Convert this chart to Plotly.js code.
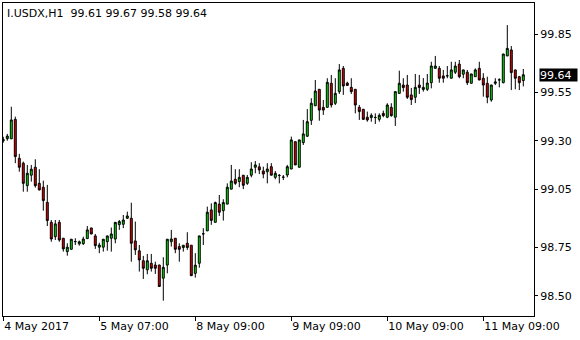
<!DOCTYPE html>
<html>
<head>
<meta charset="utf-8">
<script src="https://cdn.plot.ly/plotly-3.0.1.min.js"></script>
<style>
html,body{margin:0;padding:0;background:#fff;}
#chart{width:580px;height:340px;}
</style>
</head>
<body>
<div id="chart"></div>
<script>
const symbolName = 'I.USDX,H1';
const openPrices = [
99.300,99.310,99.310,99.410,99.209,99.184,99.068,99.122,99.163,99.080,
99.060,98.982,98.879,98.805,98.879,98.797,98.728,98.740,98.779,98.768,
98.769,98.795,98.850,98.809,98.751,98.751,98.779,98.797,98.793,98.867,
98.869,98.900,98.900,98.783,98.732,98.681,98.634,98.668,98.659,98.659,
98.591,98.659,98.779,98.797,98.754,98.749,98.771,98.761,98.616,98.668,
98.819,98.835,98.943,98.879,98.973,98.939,98.973,99.050,99.101,99.089,
99.122,99.080,99.122,99.163,99.165,99.144,99.140,99.166,99.111,99.120,
99.111,99.123,99.154,99.295,99.163,99.290,99.323,99.405,99.480,99.565,
99.472,99.472,99.596,99.493,99.553,99.673,99.597,99.575,99.565,99.472,
99.462,99.421,99.419,99.419,99.410,99.441,99.421,99.472,99.421,99.544,
99.587,99.587,99.536,99.524,99.587,99.564,99.565,99.599,99.673,99.673,
99.634,99.634,99.622,99.653,99.695,99.643,99.653,99.596,99.630,99.673,
99.622,99.596,99.510,99.596,99.613,99.599,99.737,99.768,99.665,99.630,
99.61];
const highPrices = [
99.320,99.335,99.475,99.424,99.232,99.192,99.175,99.175,99.204,99.153,
99.094,99.072,98.891,98.891,98.891,98.798,98.771,98.793,98.797,98.785,
98.805,98.860,98.851,98.819,98.774,98.793,98.810,98.852,98.880,98.891,
98.917,98.934,98.980,98.883,98.762,98.706,98.716,98.716,98.676,98.660,
98.699,98.793,98.840,98.798,98.771,98.762,98.828,98.762,98.720,98.810,
98.849,98.960,98.977,98.986,99.020,98.998,99.080,99.175,99.153,99.153,
99.123,99.123,99.189,99.195,99.184,99.166,99.184,99.184,99.144,99.128,
99.123,99.175,99.321,99.296,99.305,99.407,99.463,99.519,99.613,99.566,
99.510,99.622,99.639,99.622,99.695,99.685,99.604,99.622,99.566,99.484,
99.463,99.450,99.441,99.441,99.441,99.455,99.493,99.493,99.554,99.661,
99.622,99.639,99.572,99.644,99.639,99.623,99.644,99.707,99.737,99.685,
99.665,99.685,99.707,99.707,99.716,99.666,99.665,99.645,99.673,99.707,
99.648,99.630,99.588,99.622,99.622,99.748,99.896,99.788,99.666,99.634,
99.67];
const lowPrices = [
99.290,99.300,99.308,99.184,99.140,99.037,99.037,99.089,99.058,99.044,
98.939,98.860,98.779,98.788,98.779,98.728,98.707,98.739,98.762,98.759,
98.762,98.794,98.818,98.742,98.720,98.728,98.733,98.728,98.771,98.840,
98.849,98.896,98.676,98.711,98.625,98.587,98.611,98.625,98.613,98.547,
98.475,98.616,98.754,98.720,98.676,98.728,98.737,98.603,98.594,98.645,
98.762,98.834,98.866,98.878,98.912,98.888,98.972,99.049,99.072,99.060,
99.050,99.072,99.111,99.132,99.128,99.106,99.080,99.121,99.101,99.080,
99.097,99.111,99.153,99.174,99.162,99.278,99.319,99.381,99.479,99.403,
99.433,99.471,99.471,99.484,99.541,99.536,99.582,99.541,99.441,99.407,
99.407,99.398,99.398,99.386,99.398,99.421,99.416,99.424,99.376,99.543,
99.553,99.515,99.484,99.494,99.541,99.553,99.556,99.570,99.672,99.599,
99.599,99.622,99.621,99.644,99.622,99.622,99.587,99.595,99.629,99.612,
99.527,99.493,99.501,99.587,99.575,99.596,99.736,99.561,99.565,99.561,
99.58];
const closePrices = [
99.305,99.324,99.407,99.218,99.163,99.080,99.132,99.153,99.068,99.046,
98.991,98.888,98.793,98.871,98.788,98.742,98.751,98.792,98.780,98.779,
98.793,98.840,98.819,98.759,98.762,98.792,98.809,98.819,98.879,98.883,
98.891,98.912,98.771,98.737,98.685,98.642,98.681,98.642,98.642,98.548,
98.647,98.792,98.793,98.740,98.740,98.761,98.749,98.604,98.658,98.809,
98.820,98.931,98.889,98.981,98.931,98.981,99.060,99.092,99.080,99.111,
99.070,99.111,99.154,99.175,99.149,99.128,99.154,99.122,99.132,99.121,
99.112,99.166,99.304,99.175,99.304,99.335,99.398,99.493,99.556,99.458,
99.458,99.601,99.484,99.544,99.665,99.582,99.585,99.553,99.484,99.450,
99.410,99.407,99.431,99.420,99.431,99.429,99.484,99.429,99.553,99.596,
99.574,99.524,99.512,99.575,99.574,99.575,99.597,99.685,99.685,99.622,
99.622,99.635,99.665,99.685,99.630,99.665,99.599,99.644,99.665,99.613,
99.587,99.524,99.587,99.603,99.614,99.747,99.776,99.651,99.622,99.599,
99.64];
const xTickIndex = [0, 24, 48, 72, 96, 120];
const xTickLabels = ['4 May 2017', '5 May 07:00', '8 May 09:00', '9 May 09:00', '10 May 09:00', '11 May 09:00'];
const yTickValues = [98.50, 98.75, 99.05, 99.30, 99.55, 99.85];

const barIndex = openPrices.map((_, i) => i);
const last = openPrices.length - 1;
const lastValues = [openPrices[last], highPrices[last], lowPrices[last], closePrices[last]];
const headerText = symbolName + '\u00a0\u00a0' + lastValues.map(v => v.toFixed(2)).join(' ');

const font = {family: 'DejaVu Sans, Verdana, sans-serif', size: 11, color: '#000'};

const trace = {
  type: 'candlestick',
  x: barIndex,
  open: openPrices,
  high: highPrices,
  low: lowPrices,
  close: closePrices,
  increasing: {line: {color: '#000', width: 1}, fillcolor: '#00e600'},
  decreasing: {line: {color: '#000', width: 1}, fillcolor: '#e60000'},
  whiskerwidth: 0,
  hoverinfo: 'skip',
  showlegend: false
};

const layout = {
  width: 580,
  height: 340,
  margin: {l: 3, r: 46, t: 3, b: 24, pad: 0},
  paper_bgcolor: '#fff',
  plot_bgcolor: '#fff',
  font: font,
  showlegend: false,
  boxgap: 0.3,
  title: {
    text: headerText,
    font: font,
    xref: 'container', yref: 'container',
    x: 7 / 580, xanchor: 'left',
    y: 1 - 13 / 340, yanchor: 'middle'
  },
  xaxis: {
    range: [-0.075, 132.675],
    rangeslider: {visible: false},
    showgrid: false,
    zeroline: false,
    showline: true, linecolor: '#000', linewidth: 1, mirror: true,
    ticks: 'outside', ticklen: 4, tickcolor: '#000', tickwidth: 1,
    tickvals: xTickIndex,
    ticktext: xTickLabels,
    ticklabelposition: 'outside right',
    tickfont: font,
    fixedrange: true
  },
  yaxis: {
    side: 'right',
    range: [98.396, 100.010],
    showgrid: false,
    zeroline: false,
    showline: true, linecolor: '#000', linewidth: 1, mirror: true,
    ticks: 'outside', ticklen: 3, tickcolor: '#000', tickwidth: 1,
    tickvals: yTickValues,
    ticktext: yTickValues.map(v => v.toFixed(2)),
    tickfont: font,
    fixedrange: true
  },
  annotations: [{
    xref: 'paper', yref: 'y',
    x: 1, y: closePrices[last],
    xanchor: 'left', yanchor: 'middle',
    xshift: 5,
    text: closePrices[last].toFixed(2),
    showarrow: false,
    bgcolor: '#000',
    font: {family: font.family, size: 11, color: '#fff'},
    width: 37, height: 12,
    borderpad: 0,
    align: 'left'
  }]
};

Plotly.newPlot('chart', [trace], layout, {displayModeBar: false, staticPlot: true});
</script>
</body>
</html>
